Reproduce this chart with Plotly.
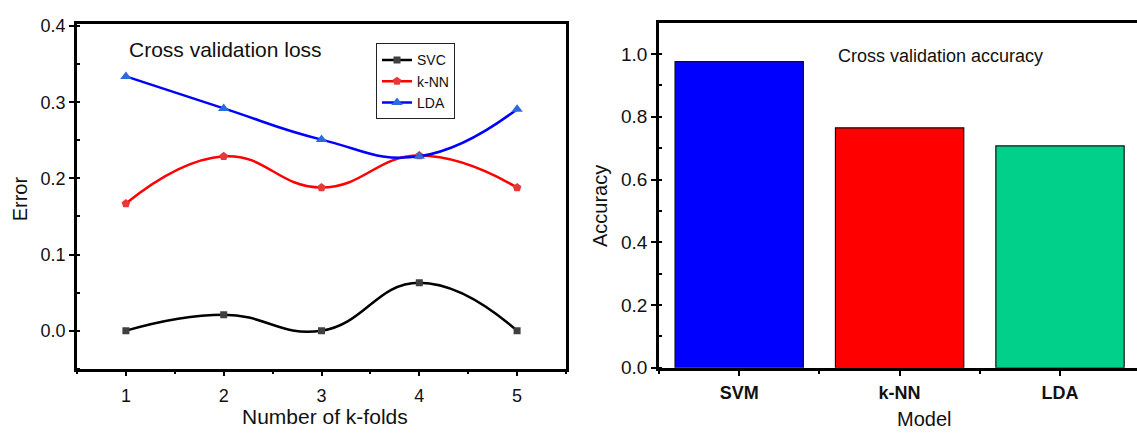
import plotly.graph_objects as go

# ---------------- data ----------------
folds = [1, 2, 3, 4, 5]
svc_loss = [0.0, 0.021, 0.0, 0.063, 0.0]
knn_loss = [0.167, 0.229, 0.188, 0.230, 0.188]
lda_loss = [0.334, 0.292, 0.251, 0.229, 0.291]

models = ["SVM", "k-NN", "LDA"]
accuracy = [0.976, 0.765, 0.707]
bar_colors = ["#0000FF", "#FF0000", "#00D08A"]

FONT = "Arial, Liberation Sans, sans-serif"
W, H = 1137, 440

fig = go.Figure()

# ---------------- left panel: lines ----------------
fig.add_trace(go.Scatter(
    x=folds, y=svc_loss, name="SVC", mode="lines+markers",
    line=dict(color="#000000", width=2.5, shape="spline", smoothing=1.3),
    marker=dict(symbol="square", size=7, color="#404040"),
    xaxis="x", yaxis="y"))
fig.add_trace(go.Scatter(
    x=folds, y=knn_loss, name="k-NN", mode="lines+markers",
    line=dict(color="#FF0000", width=2.5, shape="spline", smoothing=1.3),
    marker=dict(symbol="pentagon", size=9, color="#E83838"),
    xaxis="x", yaxis="y"))
fig.add_trace(go.Scatter(
    x=folds, y=lda_loss, name="LDA", mode="lines+markers",
    line=dict(color="#0000FF", width=2.5, shape="spline", smoothing=1.3),
    marker=dict(symbol="triangle-up", size=10, color="#2A6BE0"),
    xaxis="x", yaxis="y"))

# ---------------- right panel: bars ----------------
fig.add_trace(go.Bar(
    x=list(range(len(models))), y=accuracy, width=0.8,
    marker=dict(color=bar_colors, line=dict(color="#111111", width=1.2)),
    showlegend=False, xaxis="x2", yaxis="y2"))

axis_common = dict(showline=True, linecolor="black", linewidth=2.5,
                   showgrid=False, zeroline=False, ticks="outside",
                   tickcolor="black", tickwidth=1.5, ticklen=5,
                   tickfont=dict(family=FONT, size=18, color="#111111"))

L_DOM = [77 / W, 566 / W]
L_YDOM = [(H - 377) / H, (H - 17) / H]
R_DOM = [659 / W, 1.0]
R_YDOM = [(H - 376) / H, (H - 16) / H]

fig.update_layout(
    width=W, height=H,
    margin=dict(l=0, r=0, t=0, b=0),
    paper_bgcolor="white", plot_bgcolor="white",
    font=dict(family=FONT, color="#111111"),
    xaxis=dict(axis_common, domain=L_DOM, range=[0.5, 5.5], dtick=1, tick0=1,
               mirror=True, ticklabelstandoff=4,
               minor=dict(dtick=0.5, ticks="outside", ticklen=3, tickcolor="black"),
               anchor="y"),
    yaxis=dict(axis_common, domain=L_YDOM, range=[-0.05, 0.4025], dtick=0.1,
               tick0=0, tickformat=".1f", mirror=True,
               minor=dict(dtick=0.05, ticks="inside", ticklen=3, tickcolor="black"),
               anchor="x"),
    xaxis3=dict(overlaying="x", side="top", range=[0.5, 5.5], dtick=1, tick0=1,
                showticklabels=False, showgrid=False, zeroline=False,
                ticks="inside", ticklen=5, tickwidth=1.5, tickcolor="black",
                minor=dict(dtick=0.5, ticks="inside", ticklen=3, tickcolor="black"),
                anchor="y"),
    xaxis2=dict(axis_common, domain=R_DOM, range=[-0.5, 2.48],
                tickvals=list(range(len(models))), ticktext=models,
                tickfont=dict(family=FONT, size=18, color="#111111", weight="bold"),
                mirror=True, ticklabelstandoff=2,
                minor=dict(dtick=0.5, tick0=-0.5, ticks="outside", ticklen=3,
                           tickcolor="black"),
                anchor="y2"),
    yaxis2=dict(axis_common, domain=R_YDOM, range=[0, 1.098], dtick=0.2, tick0=0,
                tickformat=".1f", mirror=False,
                tickfont=dict(family=FONT, size=19, color="#111111"),
                minor=dict(dtick=0.1, ticks="inside", ticklen=3, tickcolor="black"),
                anchor="x2"),
    xaxis4=dict(overlaying="x2", side="top", range=[0, 4.93], dtick=1, tick0=0,
                showticklabels=False, showgrid=False, zeroline=False,
                ticks="inside", ticklen=5, tickwidth=1.5, tickcolor="black",
                minor=dict(dtick=0.5, ticks="inside", ticklen=3, tickcolor="black"),
                anchor="y2"),
    legend=dict(x=376 / W, y=(H - 37) / H, xanchor="left", yanchor="top",
                bordercolor="#222222", borderwidth=1, bgcolor="white",
                font=dict(family=FONT, size=14), tracegroupgap=0,
                itemwidth=30),
    showlegend=True,
    bargap=0.2,
)

# axis titles (placed in pixel terms of the figure)
titles = [
    ("Number of k-folds", 325, 427, 0, 21),
    ("Error", 20, 200, -90, 20),
    ("Model", 924, 430, 0, 20),
    ("Accuracy", 600, 207, -90, 20),
]
for txt, px, py, ang, sz in titles:
    fig.add_annotation(text=txt, xref="paper", yref="paper", x=px / W, y=(H - py) / H,
                       xanchor="center", yanchor="middle", textangle=ang,
                       showarrow=False, font=dict(family=FONT, size=sz, color="#111111"))

fig.add_annotation(text="Cross validation loss", xref="paper", yref="paper",
                   x=127 / W, y=(H - 43) / H, xanchor="left", yanchor="middle",
                   showarrow=False, font=dict(family=FONT, size=21, color="#111111"))
fig.add_annotation(text="Cross validation accuracy", xref="paper", yref="paper",
                   x=836 / W, y=(H - 50) / H, xanchor="left", yanchor="middle",
                   showarrow=False, font=dict(family=FONT, size=18, color="#111111"))

fig.write_html("out.html", config={"displayModeBar": False},
               post_script="document.body.style.margin='0';")
